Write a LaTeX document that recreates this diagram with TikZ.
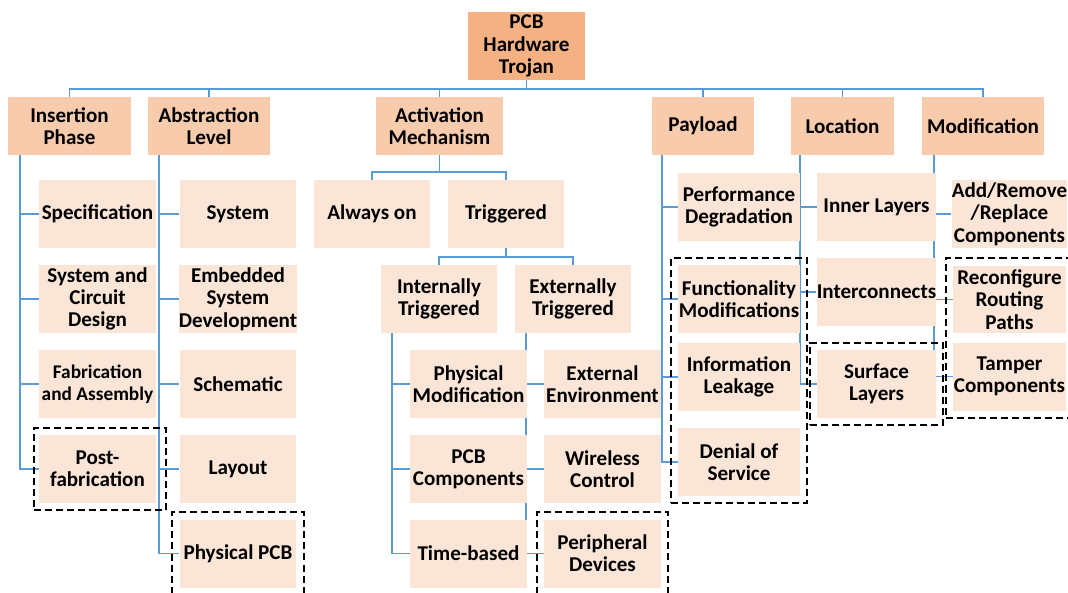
\documentclass[tikz,border=0pt]{standalone}
\usepackage{fontspec}
\setmainfont{Carlito}
\usetikzlibrary{backgrounds,fit}

\definecolor{rootfill}{HTML}{F4B183}
\definecolor{catfill}{HTML}{F8CBAD}
\definecolor{leaffill}{HTML}{FBE5D6}
\definecolor{linkblue}{HTML}{5B9BD5}

\begin{document}
\begin{tikzpicture}[x=0.02cm,y=-0.02cm,
  every node/.style={font=\fontsize{12}{12.7}\selectfont\bfseries, align=center, inner sep=0pt},
  root/.style={fill=rootfill, minimum width=2.34cm, minimum height=1.36cm},
  cat/.style={fill=catfill, minimum height=1.16cm},
  leaf/.style={fill=leaffill, minimum width=2.34cm, minimum height=1.36cm},
  conn/.style={draw=linkblue, line width=1pt},
  group/.style={draw=black, line width=1.3pt, dash pattern=on 4pt off 2.3pt, inner sep=0.14cm}]
\useasboundingbox (0,0) rectangle (1068,592);
\node[root] (pcb) at (526.5,46) {PCB\\Hardware\\Trojan};
\node[cat, minimum width=2.46cm] (ins) at (69.5,126) {Insertion\\Phase};
\node[cat, minimum width=2.44cm] (abs) at (209,126) {Abstraction\\Level};
\node[cat, minimum width=2.54cm] (act) at (439.5,126) {Activation\\Mechanism};
\node[cat, minimum width=2.04cm] (pay) at (703,126) {Payload};
\node[cat, minimum width=2.06cm] (loc) at (842.5,126) {Location};
\node[cat, minimum width=2.44cm] (mod) at (983,126) {Modification};
\node[leaf] (spec) at (97.5,214) {Specification};
\node[leaf] (scd) at (97.5,299) {System and\\Circuit\\Design};
\node[leaf, font=\fontsize{11}{12.7}\selectfont\bfseries] (fab) at (97.5,384) {Fabrication\\and Assembly};
\node[leaf] (post) at (97.5,469) {Post-\\fabrication};
\node[leaf] (sys) at (238,214) {System};
\node[leaf] (emb) at (238,299) {Embedded\\System\\Development};
\node[leaf] (sch) at (238,384) {Schematic};
\node[leaf] (lay) at (238,469) {Layout};
\node[leaf] (phy) at (238,553.5) {Physical PCB};
\node[leaf, minimum width=2.32cm] (alw) at (372,214) {Always on};
\node[leaf, minimum width=2.32cm] (trg) at (506,214) {Triggered};
\node[leaf, minimum width=2.32cm] (itr) at (439,299) {Internally\\Triggered};
\node[leaf, minimum width=2.32cm] (etr) at (573,299) {Externally\\Triggered};
\node[leaf] (pmod) at (468.5,384) {Physical\\Modification};
\node[leaf] (pcbc) at (468.5,469) {PCB\\Components};
\node[leaf] (time) at (468.5,553.5) {Time-based};
\node[leaf] (env) at (602.5,384) {External\\Environment};
\node[leaf] (wls) at (602.5,469) {Wireless\\Control};
\node[leaf] (per) at (602.5,553.5) {Peripheral\\Devices};
\node[leaf, minimum width=2.44cm] (perf) at (739,207) {Performance\\Degradation};
\node[leaf, minimum width=2.44cm] (func) at (739,299) {Functionality\\Modifications};
\node[leaf, minimum width=2.44cm] (leak) at (739,377) {Information\\Leakage};
\node[leaf, minimum width=2.44cm] (dos) at (739,462) {Denial of\\Service};
\node[leaf, minimum width=2.38cm] (inner) at (876.5,207) {Inner Layers};
\node[leaf, minimum width=2.38cm] (intc) at (876.5,292) {Interconnects};
\node[leaf, minimum width=2.38cm] (surf) at (876.5,384) {Surface\\Layers};
\node[leaf, minimum width=2.26cm] (arr) at (1009.5,214) {Add/Remove\\/Replace\\Components};
\node[leaf, minimum width=2.26cm] (rrp) at (1009.5,299.5) {Reconfigure\\Routing\\Paths};
\node[leaf, minimum width=2.26cm] (tamp) at (1009.5,376.5) {Tamper\\Components};
\begin{scope}[on background layer]
\foreach \n in {ins,abs,act,pay,loc,mod}
  \draw[conn] (pcb.south) -- ++(0,9) -| (\n.north);
\foreach \n in {alw,trg}
  \draw[conn] (act.south) -- ++(0,17) -| (\n.north);
\foreach \n in {itr,etr}
  \draw[conn] (trg.south) -- ++(0,9) -| (\n.north);
\foreach \n in {spec,scd,fab,post}
  \draw[conn] ([xshift=0.24cm]ins.south west) |- (\n.west);
\foreach \n in {sys,emb,sch,lay,phy}
  \draw[conn] ([xshift=0.22cm]abs.south west) |- (\n.west);
\foreach \n in {pmod,pcbc,time}
  \draw[conn] ([xshift=0.22cm]itr.south west) |- (\n.west);
\foreach \n in {env,wls,per}
  \draw[conn] ([xshift=0.22cm]etr.south west) |- (\n.west);
\foreach \n in {perf,func,leak,dos}
  \draw[conn] ([xshift=0.2cm]pay.south west) |- (\n.west);
\foreach \n in {inner,intc,surf}
  \draw[conn] ([xshift=0.18cm]loc.south west) |- (\n.west);
\foreach \n in {arr,rrp,tamp}
  \draw[conn] ([xshift=0.24cm]mod.south west) |- (\n.west);
\end{scope}
\node[group, fit=(post), inner xsep=0.15cm, xshift=0.05cm] (gpost) {};
\node[group, fit=(phy)] (gphy) {};
\node[group, fit=(per)] (gper) {};
\node[group, fit=(func)(dos)] (gpay) {};
\node[group, fit=(surf)] (gsurf) {};
\node[group, fit=(rrp)(tamp)] (gmod) {};
\end{tikzpicture}
\end{document}
